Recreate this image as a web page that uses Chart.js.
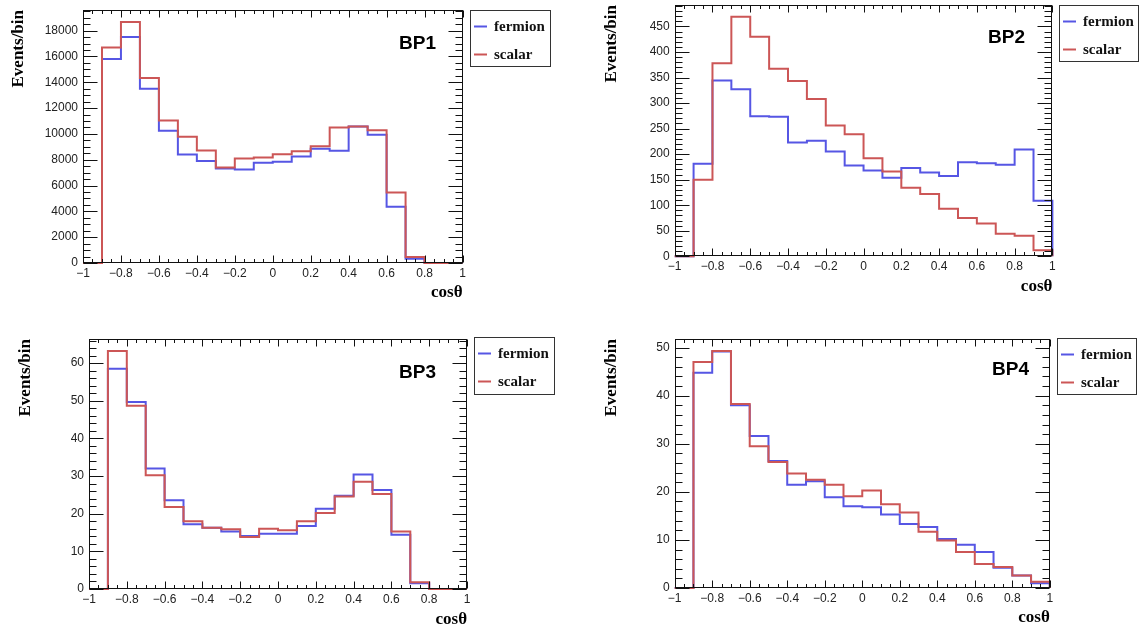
<!DOCTYPE html>
<html>
<head>
<meta charset="utf-8">
<title>cosθ distributions BP1-BP4</title>
<script src="https://cdn.jsdelivr.net/npm/chart.js@4.4.0/dist/chart.umd.min.js"></script>
<style>
  html, body { margin: 0; padding: 0; background: #fff; }
  #page { position: relative; width: 1140px; height: 628px; overflow: hidden; background: #fff; }
  #page canvas { position: absolute; }
</style>
</head>
<body>
<div id="page">
  <canvas id="bp1" width="570" height="314" style="left:0px;top:0px"></canvas>
  <canvas id="bp2" width="570" height="314" style="left:570px;top:0px"></canvas>
  <canvas id="bp3" width="570" height="314" style="left:0px;top:314px"></canvas>
  <canvas id="bp4" width="570" height="314" style="left:570px;top:314px"></canvas>
</div>
<script>
// 20 bins in cos(theta)
var binEdges = [-1, -0.9, -0.8, -0.7, -0.6, -0.5, -0.4, -0.3, -0.2, -0.1, 0,
                0.1, 0.2, 0.3, 0.4, 0.5, 0.6, 0.7, 0.8, 0.9, 1];
var xTickValues = [-1, -0.8, -0.6, -0.4, -0.2, 0, 0.2, 0.4, 0.6, 0.8, 1];
var xTickLabels = ['\u22121', '\u22120.8', '\u22120.6', '\u22120.4', '\u22120.2', '0',
                   '0.2', '0.4', '0.6', '0.8', '1'];

// events per bin
var bp1Fermion = [0, 15800, 17500, 13500, 10250, 8400, 7900, 7320, 7250, 7760,
                  7850, 8250, 8850, 8700, 10570, 9930, 4360, 330, 0, 0];
var bp1Scalar  = [0, 16700, 18670, 14340, 11040, 9780, 8720, 7400, 8100, 8180,
                  8430, 8660, 9050, 10500, 10570, 10290, 5470, 470, 0, 0];

var bp2Fermion = [0, 181, 344, 327, 274, 273, 223, 226, 205, 178,
                  168, 154, 173, 164, 157, 184, 182, 179, 209, 109];
var bp2Scalar  = [0, 150, 378, 469, 430, 367, 343, 308, 256, 239,
                  192, 166, 134, 122, 93, 75, 64, 44, 40, 12];

var bp3Fermion = [0, 58.5, 49.7, 32.0, 23.6, 17.2, 16.3, 15.3, 14.1, 14.7,
                  14.7, 16.7, 21.3, 24.8, 30.4, 26.3, 14.4, 1.5, 0, 0];
var bp3Scalar  = [0, 63.2, 48.7, 30.2, 21.8, 18.0, 16.3, 15.9, 13.8, 16.0,
                  15.6, 18.0, 20.2, 24.6, 28.5, 25.2, 15.3, 1.8, 0, 0];

var bp4Fermion = [0, 44.8, 49.2, 38.0, 31.6, 26.4, 21.5, 22.2, 18.9, 17.0,
                  16.8, 15.3, 13.3, 12.7, 10.2, 9.0, 7.5, 4.2, 2.6, 1.0];
var bp4Scalar  = [0, 47.0, 49.3, 38.3, 29.5, 26.2, 23.8, 22.5, 21.5, 19.1,
                  20.3, 17.4, 15.7, 11.7, 9.9, 7.5, 5.0, 4.35, 2.6, 1.3];

// y axis labels
var bp1YTicks = [0, 2000, 4000, 6000, 8000, 10000, 12000, 14000, 16000, 18000];
var bp2YTicks = [0, 50, 100, 150, 200, 250, 300, 350, 400, 450];
var bp3YTicks = [0, 10, 20, 30, 40, 50, 60];
var bp4YTicks = [0, 10, 20, 30, 40, 50];

var seriesNames = ['fermion', 'scalar'];
var blue = '#5656e4';
var red = '#cc5656';

// bin contents as step points: left edge of every bin, then closed down at x = 1
function histPoints(values) {
  var pts = [];
  for (var i = 0; i < values.length; i++) {
    pts.push({ x: binEdges[i], y: values[i] });
  }
  pts.push({ x: binEdges[values.length], y: values[values.length - 1] });
  pts.push({ x: binEdges[values.length], y: 0 });
  return pts;
}

// ROOT style frame: inner ticks on all four sides, legend box and panel name
var rootFrame = {
  id: 'rootFrame',
  afterDatasetsDraw: function (chart, args, o) {
    var c = chart.ctx;
    var a = chart.chartArea;
    var xs = chart.scales.x;
    var ys = chart.scales.y;
    var L = Math.round(a.left) + 0.5, R = Math.round(a.right) - 0.5;
    var T = Math.round(a.top) + 0.5, B = Math.round(a.bottom) - 0.5;
    c.save();
    c.strokeStyle = '#111';
    c.lineWidth = 1;
    c.strokeRect(L, T, R - L, B - T);

    c.beginPath();
    // x: major every 0.2, minor every 0.05
    for (var k = 0; k <= 40; k++) {
      var px = Math.round(xs.getPixelForValue(-1 + k * 0.05)) + 0.5;
      var len = (k % 4 === 0) ? 7 : 3.5;
      c.moveTo(px, B); c.lineTo(px, B - len);
      c.moveTo(px, T); c.lineTo(px, T + len);
    }
    // y: major at the labels, o.yMinor between them
    var n = Math.floor(ys.max / o.yMinor + 1e-6);
    for (k = 0; k <= n; k++) {
      var py = Math.round(ys.getPixelForValue(k * o.yMinor)) + 0.5;
      var ylen = (k % o.perMajor === 0) ? 14 : 7;
      c.moveTo(L, py); c.lineTo(L + ylen, py);
      c.moveTo(R, py); c.lineTo(R - ylen, py);
    }
    c.stroke();

    // legend
    var lg = o.legend;
    var x0 = Math.round(lg[0]) + 0.5, y0 = Math.round(lg[1]) + 0.5;
    var x1 = Math.round(lg[2]) - 0.5, y1 = Math.round(lg[3]) - 0.5;
    c.fillStyle = '#fff';
    c.fillRect(x0, y0, x1 - x0, y1 - y0);
    c.strokeStyle = '#333';
    c.strokeRect(x0, y0, x1 - x0, y1 - y0);
    var h = y1 - y0;
    var rows = [0.275, 0.77];
    c.font = 'bold 15px "Liberation Serif", "Times New Roman", serif';
    c.textBaseline = 'middle';
    c.textAlign = 'left';
    for (var i = 0; i < chart.data.datasets.length; i++) {
      var ds = chart.data.datasets[i];
      var ly = Math.round(y0 + rows[i] * h) + 0.5;
      c.strokeStyle = ds.borderColor;
      c.lineWidth = 2;
      c.beginPath();
      c.moveTo(x0 + 3.5, ly); c.lineTo(x0 + 16.5, ly);
      c.stroke();
      c.fillStyle = '#111';
      c.fillText(ds.label, x0 + 23.5, ly + 1);
    }

    // panel name
    c.font = 'bold 19px "Liberation Sans", Arial, sans-serif';
    c.textAlign = 'right';
    c.fillStyle = '#000';
    c.fillText(o.name, o.nameAt[0], o.nameAt[1]);
    c.restore();
  }
};

var tickFont = { family: '"Liberation Sans", Arial, sans-serif', size: 12 };
var titleFont = { family: '"Liberation Serif", "Times New Roman", serif', size: 17, weight: 'bold', lineHeight: 1 };

function drawPanel(id, p) {
  var canvas = document.getElementById(id);
  var W = canvas.width, H = canvas.height;
  var area = p.area; // left, top, right, bottom of the frame
  var ctx = canvas.getContext('2d');
  return new Chart(ctx, {
    type: 'line',
    data: {
      datasets: [{
        label: seriesNames[0],
        data: histPoints(p.fermion),
        borderColor: blue,
        borderWidth: 2,
        stepped: 'before',
        pointRadius: 0,
        fill: false,
        clip: 2,
        order: 2
      }, {
        label: seriesNames[1],
        data: histPoints(p.scalar),
        borderColor: red,
        borderWidth: 2,
        stepped: 'before',
        pointRadius: 0,
        fill: false,
        clip: 2,
        order: 1
      }]
    },
    options: {
      responsive: false,
      animation: false,
      devicePixelRatio: 1,
      layout: { padding: { left: 0, top: area[1], right: W - area[2], bottom: 0 } },
      plugins: {
        legend: { display: false },
        tooltip: { enabled: false },
        rootFrame: { yMinor: p.yMinor, perMajor: p.perMajor, legend: p.legend, name: p.name, nameAt: p.nameAt }
      },
      scales: {
        x: {
          type: 'linear',
          min: -1,
          max: 1,
          grid: { display: false, drawTicks: false },
          border: { display: false },
          afterBuildTicks: function (s) {
            s.ticks = xTickValues.map(function (v) { return { value: v }; });
          },
          afterFit: function (s) {
            s.height = H - area[3];
            s.paddingLeft = 0;
            s.paddingRight = 0;
          },
          ticks: {
            autoSkip: false,
            maxRotation: 0,
            padding: 3,
            font: tickFont,
            color: '#222',
            callback: function (v, i) { return xTickLabels[i]; }
          },
          title: {
            display: true,
            text: 'cos\u03b8',
            align: 'end',
            color: '#000',
            font: titleFont,
            padding: { top: 0, bottom: p.xTitlePad }
          }
        },
        y: {
          type: 'linear',
          min: 0,
          max: p.yMax,
          grid: { display: false, drawTicks: false },
          border: { display: false },
          afterBuildTicks: function (s) {
            s.ticks = p.yTicks.map(function (v) { return { value: v }; });
          },
          afterFit: function (s) {
            s.width = area[0];
            s.paddingTop = 0;
            s.paddingBottom = 0;
          },
          ticks: {
            autoSkip: false,
            padding: 5,
            font: tickFont,
            color: '#222',
            callback: function (v) { return String(v); }
          },
          title: {
            display: true,
            text: 'Events/bin',
            align: 'end',
            color: '#000',
            font: titleFont,
            padding: { top: p.yTitlePad, bottom: 0 }
          }
        }
      }
    },
    plugins: [rootFrame]
  });
}

drawPanel('bp1', {
  fermion: bp1Fermion, scalar: bp1Scalar, yTicks: bp1YTicks, yMax: 19600, yMinor: 500, perMajor: 4,
  area: [83, 10, 462.5, 263], legend: [469.5, 10, 551, 67], name: 'BP1', nameAt: [436, 44],
  xTitlePad: 12.5, yTitlePad: 10.5
});
drawPanel('bp2', {
  fermion: bp2Fermion, scalar: bp2Scalar, yTicks: bp2YTicks, yMax: 492, yMinor: 10, perMajor: 5,
  area: [104.7, 5, 482.4, 256.3], legend: [489, 5, 569, 62], name: 'BP2', nameAt: [455, 38],
  xTitlePad: 18.5, yTitlePad: 33
});
drawPanel('bp3', {
  fermion: bp3Fermion, scalar: bp3Scalar, yTicks: bp3YTicks, yMax: 66.4, yMinor: 2, perMajor: 5,
  area: [89, 25, 467, 275], legend: [474, 23, 555, 81], name: 'BP3', nameAt: [436, 59],
  xTitlePad: 0, yTitlePad: 17
});
drawPanel('bp4', {
  fermion: bp4Fermion, scalar: bp4Scalar, yTicks: bp4YTicks, yMax: 51.8, yMinor: 2, perMajor: 5,
  area: [104.7, 25, 479.8, 274], legend: [487, 24, 567, 81], name: 'BP4', nameAt: [459, 56],
  xTitlePad: 1.5, yTitlePad: 33
});
</script>
</body>
</html>
